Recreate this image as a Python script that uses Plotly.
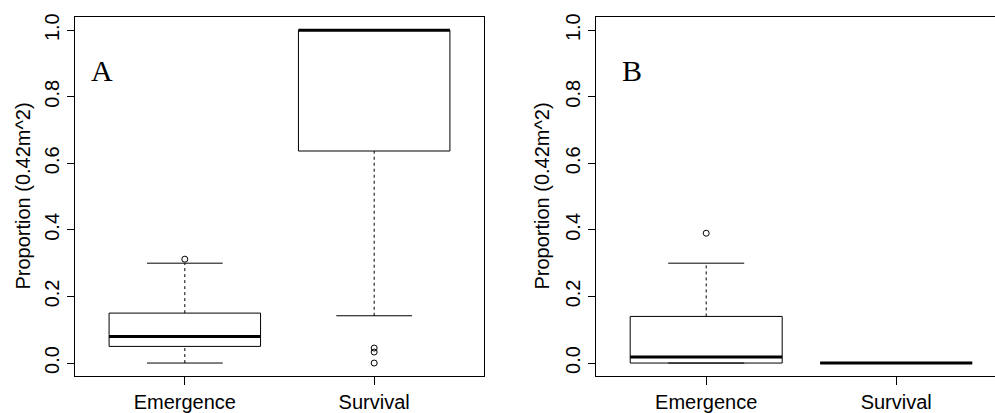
import plotly.graph_objects as go

# ---------------- data ----------------
categories = ["Emergence", "Survival"]
y_ticks = [0.0, 0.2, 0.4, 0.6, 0.8, 1.0]
y_title = "Proportion (0.42m^2)"
panel_labels = ["A", "B"]

# Panel A summary statistics (per category)
a_lower = [0.0, 0.142]
a_q1 = [0.05, 0.637]
a_median = [0.08, 1.0]
a_q3 = [0.15, 1.0]
a_upper = [0.30, 1.0]
a_outliers = [[0.312], [0.045, 0.033, 0.0]]

# Panel B summary statistics (per category)
b_lower = [0.0, 0.0]
b_q1 = [0.0, 0.0]
b_median = [0.018, 0.0]
b_q3 = [0.14, 0.0]
b_upper = [0.30, 0.0]
b_outliers = [[0.39], []]

# ---------------- style ----------------
BOX_HALF = 0.4
CAP_HALF = 0.2
FONT = "Liberation Sans, Arial, sans-serif"
W, H = 995, 413

fig = go.Figure()


def line(xs, ys, xa, ya, width=1, dash="solid"):
    fig.add_trace(go.Scatter(x=xs, y=ys, mode="lines", xaxis=xa, yaxis=ya,
                             line=dict(color="black", width=width, dash=dash),
                             hoverinfo="skip", showlegend=False))


def panel(lower, q1, med, q3, upper, outliers, xa, ya):
    for i, _ in enumerate(categories):
        c = i + 1
        # whiskers (dashed)
        if upper[i] > q3[i]:
            line([c, c], [q3[i], upper[i]], xa, ya, dash="3px,3px")
        if lower[i] < q1[i]:
            line([c, c], [lower[i], q1[i]], xa, ya, dash="3px,3px")
        # caps
        line([c - CAP_HALF, c + CAP_HALF], [upper[i], upper[i]], xa, ya)
        line([c - CAP_HALF, c + CAP_HALF], [lower[i], lower[i]], xa, ya)
        # box
        line([c - BOX_HALF, c + BOX_HALF, c + BOX_HALF, c - BOX_HALF, c - BOX_HALF],
             [q1[i], q1[i], q3[i], q3[i], q1[i]], xa, ya)
        # median
        line([c - BOX_HALF, c + BOX_HALF], [med[i], med[i]], xa, ya, width=3)
        # outliers
        if outliers[i]:
            fig.add_trace(go.Scatter(x=[c] * len(outliers[i]), y=outliers[i], mode="markers",
                                     xaxis=xa, yaxis=ya,
                                     marker=dict(symbol="circle-open", size=6, color="black",
                                                 line=dict(width=1, color="black")),
                                     hoverinfo="skip", showlegend=False))


panel(a_lower, a_q1, a_median, a_q3, a_upper, a_outliers, "x", "y")
panel(b_lower, b_q1, b_median, b_q3, b_upper, b_outliers, "x2", "y2")

y_dom = [36 / H, (H - 14) / H]

common_x = dict(tickmode="array", tickvals=[1, 2], ticktext=categories,
                ticks="outside", ticklen=8, tickwidth=1, tickcolor="black",
                showline=True, linecolor="black", linewidth=1, mirror=True,
                showgrid=False, zeroline=False,
                tickfont=dict(family=FONT, size=20, color="black"))
common_y = dict(tickmode="array", tickvals=y_ticks,
                ticktext=[f"{v:.1f}" for v in y_ticks],
                ticks="outside", ticklen=7, tickwidth=1, tickcolor="black",
                tickangle=-90, range=[-0.04, 1.04],
                showline=True, linecolor="black", linewidth=1,
                showgrid=False, zeroline=False, domain=y_dom,
                tickfont=dict(family=FONT, size=20, color="black"))

fig.update_layout(
    width=W, height=H,
    margin=dict(l=0, r=0, t=0, b=0),
    paper_bgcolor="white", plot_bgcolor="white",
    showlegend=False,
    xaxis=dict(common_x, domain=[75 / W, 484 / W], range=[0.42, 2.58], anchor="y"),
    yaxis=dict(common_y, mirror=True, anchor="x"),
    xaxis2=dict(common_x, domain=[596 / W, 1.0], range=[0.42, 2.52], anchor="y2"),
    yaxis2=dict(common_y, mirror=False, anchor="x2"),
)

# panel letters
for lab, xr, yr, xv in [(panel_labels[0], "x", "y", 0.563), (panel_labels[1], "x2", "y2", 0.609)]:
    fig.add_annotation(x=xv, y=0.88, xref=xr, yref=yr, text=lab, showarrow=False,
                       xanchor="center", yanchor="middle",
                       font=dict(family="Liberation Serif, Times New Roman, serif", size=30,
                                 color="black"))

# y-axis titles
for xp in [23 / W, 542 / W]:
    fig.add_annotation(x=xp, y=(H - 195.5) / H, xref="paper", yref="paper", text=y_title,
                       textangle=-90, showarrow=False, xanchor="center", yanchor="middle",
                       font=dict(family=FONT, size=20, color="black"))

fig.write_html("out.html")
